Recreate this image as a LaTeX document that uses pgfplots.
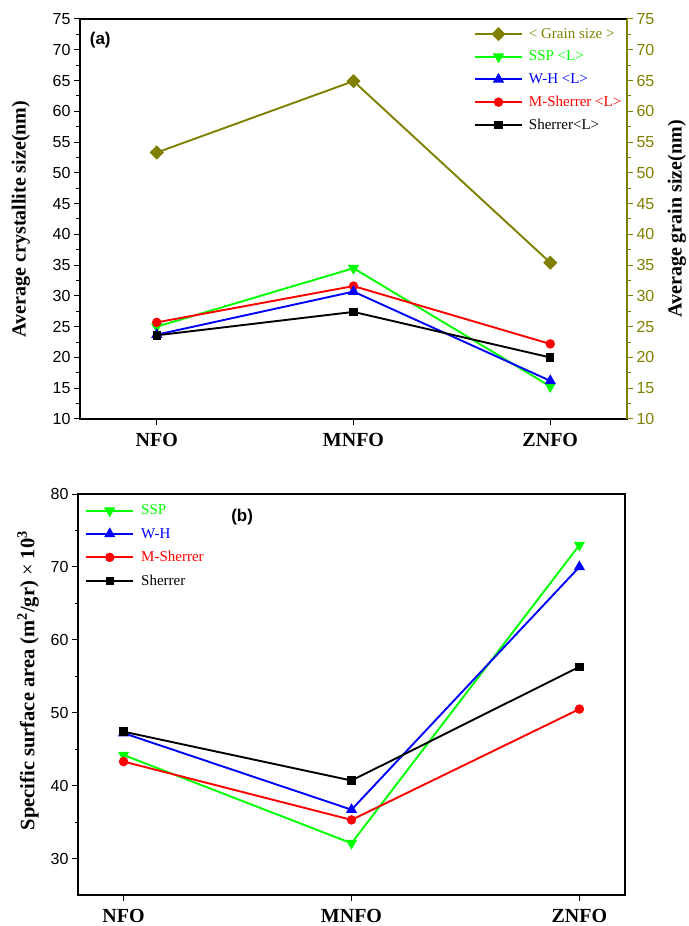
\documentclass[border=0pt]{standalone}
\usepackage{pgfplots}
\pgfplotsset{compat=1.18}
\usepackage{fontspec}
\setmainfont{Liberation Serif}
\newfontfamily\arial{Liberation Sans}
\definecolor{olivec}{RGB}{128,128,0}
\definecolor{greenc}{RGB}{0,255,0}
\definecolor{bluec}{RGB}{0,0,255}
\definecolor{redc}{RGB}{255,0,0}
\pgfplotsset{
  common/.style={
    scale only axis,
    width=547pt,
    /pgf/number format/assume math mode=true,
    tick align=outside,
    major tick length=6pt,
    minor tick length=3.5pt,
    every tick/.style={line width=1pt},
    axis line style={line width=1.2pt},
    yticklabel style={font=\arial\fontsize{16}{16}\selectfont},
    xticklabel style={font=\bfseries\fontsize{20}{20}\selectfont, yshift=-5pt},
    xtick={0,1,2},
    xticklabels={NFO,MNFO,ZNFO},
    every axis plot/.append style={line width=1.9pt},
    legend image code/.code={\draw[line width=1.9pt, mark repeat=2,mark phase=2] plot coordinates {(0pt,0pt) (23.5pt,0pt) (47pt,0pt)};},
  },
  mgrain/.style={olivec, mark=square*, mark size=4.5pt, mark options={rotate=45, line width=1pt}},
  mssp/.style={greenc, mark=triangle*, mark size=5.5pt, mark options={rotate=180, line width=1pt}},
  mwh/.style={bluec, mark=triangle*, mark size=5.5pt, mark options={line width=1pt}},
  mms/.style={redc, mark=*, mark size=4.2pt, mark options={line width=1pt}},
  msh/.style={black, mark=square*, mark size=3.7pt, mark options={line width=1pt}},
}
\begin{document}
\begin{tikzpicture}
\useasboundingbox (0,0) rectangle (688pt,926pt);
% ---------- (a) ----------
\begin{axis}[common,
  at={(80pt,507pt)}, anchor=south west, height=400pt,
  xmin=-0.39, xmax=2.39, ymin=10, ymax=75,
  ytick={10,15,...,75}, minor y tick num=1,
  xtick pos=lower, ytick pos=left,
  ylabel={\bfseries Average crystallite size(nm)},
  ylabel style={font=\fontsize{20}{20}\selectfont, at={(axis description cs:-0.108,0.5)}, anchor=center, rotate=0},
]
\addplot[mssp] coordinates {(0,25.0) (1,34.5) (2,15.3)};
\addplot[mms] coordinates {(0,25.7) (1,31.6) (2,22.2)};
\addplot[mwh] coordinates {(0,23.7) (1,30.7) (2,16.2)};
\addplot[msh] coordinates {(0,23.6) (1,27.4) (2,20.0)};
\node[font=\arial\bfseries\fontsize{17}{17}\selectfont] at (rel axis cs:0.037,0.948) {(a)};
\end{axis}
\begin{axis}[common,
  at={(80pt,507pt)}, anchor=south west, height=400pt,
  xmin=-0.39, xmax=2.39, ymin=10, ymax=75,
  axis x line=none, axis y line*=right,
  ytick={10,15,...,75}, minor y tick num=1,
  y axis line style={olivec, line width=1.2pt},
  ytick style={olivec},
  yticklabel style={olivec},
  ylabel={\bfseries Average grain size(nm)},
  ylabel style={font=\fontsize{20}{20}\selectfont, at={(axis description cs:1.091,0.5)}, anchor=center, rotate=0},
  legend style={draw=none, fill=none, at={(0.72,0.982)}, anchor=north west, inner sep=0pt,
    font=\fontsize{15}{15}\selectfont, row sep=7.2pt, column sep=4pt, legend cell align=left},
]
\addplot[mgrain] coordinates {(0,53.3) (1,64.9) (2,35.4)};
\addlegendentry{\textcolor{olivec}{< Grain size >}}
\addlegendimage{mssp, line width=1.9pt}
\addlegendentry{\textcolor{greenc}{SSP <L>}}
\addlegendimage{mwh, line width=1.9pt}
\addlegendentry{\textcolor{bluec}{W-H <L>}}
\addlegendimage{mms, line width=1.9pt}
\addlegendentry{\textcolor{redc}{M-Sherrer <L>}}
\addlegendimage{msh, line width=1.9pt}
\addlegendentry{Sherrer<L>}
\end{axis}
% ---------- (b) ----------
\begin{axis}[common,
  at={(78pt,31pt)}, anchor=south west, height=401pt,
  xmin=-0.2, xmax=2.2, ymin=25, ymax=80,
  ytick={30,40,...,80}, minor y tick num=1,
  xtick pos=lower, ytick pos=left,
  ylabel={\bfseries Specific surface area (m\textsuperscript{2}/gr) {\mdseries ×} 10\textsuperscript{3}},
  ylabel style={font=\fontsize{20.5}{20.5}\selectfont, at={(axis description cs:-0.091,0.535)}, anchor=center, rotate=0},
  legend style={draw=none, fill=none, at={(0.013,0.978)}, anchor=north west, inner sep=0pt,
    font=\fontsize{15}{15}\selectfont, row sep=7.8pt, column sep=5pt, legend cell align=left},
]
\addplot[mssp] coordinates {(0,44.2) (1,32.1) (2,73.0)};
\addlegendentry{\textcolor{greenc}{SSP}}
\addplot[mwh] coordinates {(0,47.2) (1,36.7) (2,70.0)};
\addlegendentry{\textcolor{bluec}{W-H}}
\addplot[mms] coordinates {(0,43.3) (1,35.3) (2,50.5)};
\addlegendentry{\textcolor{redc}{M-Sherrer}}
\addplot[msh] coordinates {(0,47.4) (1,40.7) (2,56.3)};
\addlegendentry{Sherrer}
\node[font=\arial\bfseries\fontsize{17}{17}\selectfont] at (rel axis cs:0.30,0.943) {(b)};
\end{axis}
\end{tikzpicture}
\end{document}
